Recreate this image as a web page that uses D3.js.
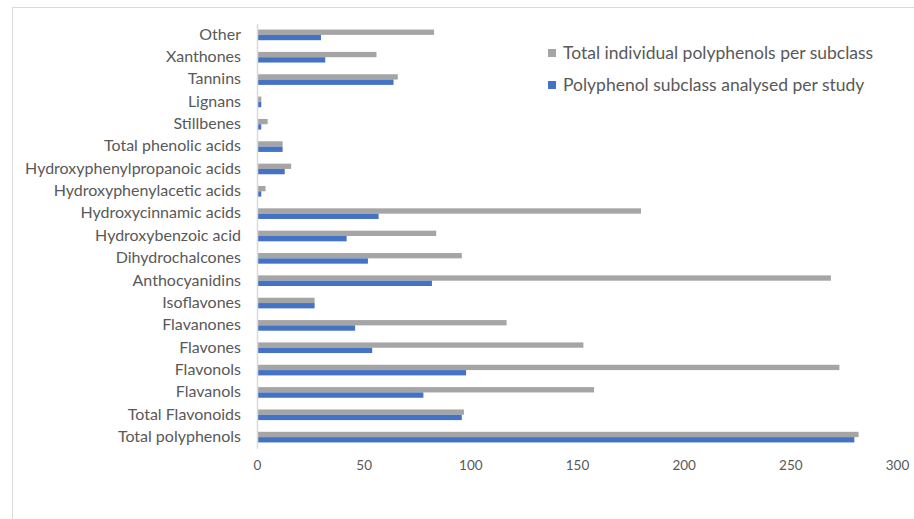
<!DOCTYPE html>
<html>
<head>
<meta charset="utf-8">
<script src="https://cdn.jsdelivr.net/npm/d3@7"></script>
<style>
  html, body { margin: 0; padding: 0; background: #ffffff; }
  svg { display: block; }
</style>
</head>
<body>
<svg id="chart" width="914" height="519"></svg>
<script>
// Polyphenol subclasses, listed bottom to top as drawn
const categories = [
  "Total polyphenols", "Total Flavonoids", "Flavanols", "Flavonols", "Flavones",
  "Flavanones", "Isoflavones", "Anthocyanidins", "Dihydrochalcones",
  "Hydroxybenzoic acid", "Hydroxycinnamic acids", "Hydroxyphenylacetic acids",
  "Hydroxyphenylpropanoic acids", "Total phenolic acids", "Stillbenes", "Lignans",
  "Tannins", "Xanthones", "Other"
];

const totalIndividual = [282, 97, 158, 273, 153, 117, 27, 269, 96, 84, 180, 4, 16, 12, 5, 2, 66, 56, 83];
const analysedPerStudy = [280, 96, 78, 98, 54, 46, 27, 82, 52, 42, 57, 2, 13, 12, 2, 2, 64, 32, 30];

const seriesNames = ["Total individual polyphenols per subclass", "Polyphenol subclass analysed per study"];
const seriesColors = ["#A5A5A5", "#4472C4"];
const xTicks = [0, 50, 100, 150, 200, 250, 300];

const svg = d3.select("#chart");
const W = 914, H = 519;
const fontFamily = "Lato, 'Open Sans', sans-serif";
const textColor = "#595959";

// Outer chart frame
svg.append("path")
  .attr("d", `M12.5,${H} V7.5 H${W}`)
  .attr("fill", "none")
  .attr("stroke", "#d9d9d9")
  .attr("stroke-width", 1);

const plot = { left: 257, right: 897, top: 23.7, bottom: 448.3 };

const x = d3.scaleLinear().domain([0, 300]).range([plot.left, plot.right]);
const y = d3.scaleBand()
  .domain(categories.slice().reverse())
  .range([plot.top, plot.bottom])
  .padding(0);
const ySub = d3.scaleBand()
  .domain([0, 1])
  .range([0, y.bandwidth()])
  .paddingInner(0)
  .paddingOuter(1.1);

const rows = categories.map((c, i) => ({ cat: c, vals: [totalIndividual[i], analysedPerStudy[i]] }));

// Bars: grey series above, blue series below within each category band
const g = svg.append("g");
rows.forEach(r => {
  r.vals.forEach((v, s) => {
    g.append("rect")
      .attr("x", x(0))
      .attr("y", y(r.cat) + ySub(s))
      .attr("width", x(v) - x(0))
      .attr("height", ySub.bandwidth())
      .attr("fill", seriesColors[s]);
  });
});

// Category axis
const yAxis = svg.append("g")
  .attr("transform", `translate(${plot.left},0)`)
  .call(d3.axisLeft(y).tickSize(0).tickPadding(16));
yAxis.select(".domain").attr("stroke", "#d9d9d9").attr("stroke-width", 1.5);
yAxis.selectAll("text")
  .attr("fill", textColor)
  .attr("dy", "0.3em")
  .style("font-family", fontFamily)
  .style("font-size", "16px");

// Value axis
const xAxis = svg.append("g")
  .attr("transform", `translate(0,${plot.bottom})`)
  .call(d3.axisBottom(x).tickValues(xTicks).tickSize(0).tickPadding(12));
xAxis.select(".domain").remove();
xAxis.selectAll("text")
  .attr("fill", textColor)
  .style("font-family", fontFamily)
  .style("font-size", "13.5px");

// Legend
const legend = svg.append("g").attr("transform", "translate(548,49)");
seriesNames.forEach((name, i) => {
  const row = legend.append("g").attr("transform", `translate(0,${i * 32})`);
  row.append("rect").attr("width", 8).attr("height", 8).attr("fill", seriesColors[i]);
  row.append("text")
    .attr("x", 15).attr("y", 4)
    .attr("dy", "0.35em")
    .attr("fill", textColor)
    .style("font-family", fontFamily)
    .style("font-size", "17.5px")
    .text(name);
});
</script>
</body>
</html>
